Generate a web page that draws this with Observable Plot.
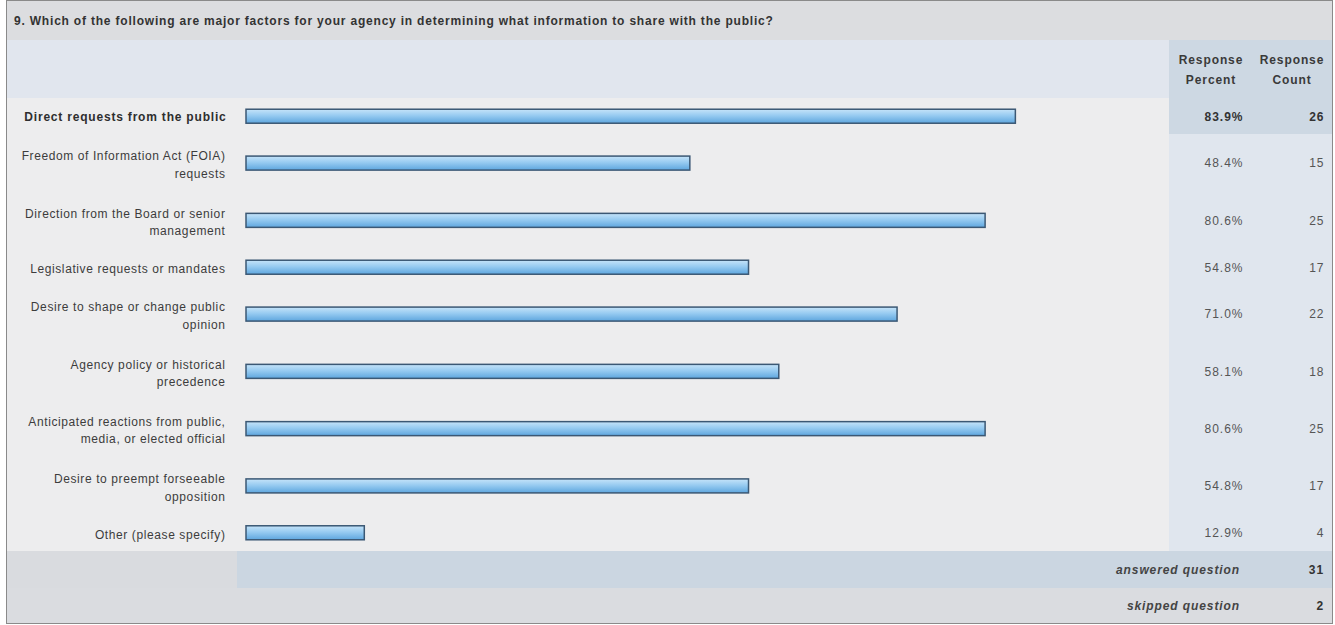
<!DOCTYPE html>
<html>
<head>
<meta charset="utf-8">
<script src="https://cdn.jsdelivr.net/npm/d3@7"></script>
<script src="https://cdn.jsdelivr.net/npm/@observablehq/plot@0.6"></script>
<style>
  html, body { margin: 0; padding: 0; background: #ffffff; }
  body { position: relative; width: 1335px; height: 625px; overflow: hidden;
         font-family: "Liberation Sans", Arial, sans-serif; font-size: 12px; color: #3a3a3a; }
  .abs { position: absolute; box-sizing: border-box; }
  .t { position: absolute; white-space: pre; letter-spacing: 0.9px; }
  svg .lbl text { letter-spacing: 0.6px; }
  svg .lblb text { letter-spacing: 0.8px; }
  svg .val text { letter-spacing: 1px; }
</style>
</head>
<body>
<script>
// ---------- data ----------
const questionTitle = "9. Which of the following are major factors for your agency in determining what information to share with the public?";
const columnHeaders = ["Response\nPercent", "Response\nCount"];
const labels = [
  "Direct requests from the public",
  "Freedom of Information Act (FOIA)\nrequests",
  "Direction from the Board or senior\nmanagement",
  "Legislative requests or mandates",
  "Desire to shape or change public\nopinion",
  "Agency policy or historical\nprecedence",
  "Anticipated reactions from public,\nmedia, or elected official",
  "Desire to preempt forseeable\nopposition",
  "Other (please specify)"
];
const percents = [83.9, 48.4, 80.6, 54.8, 71.0, 58.1, 80.6, 54.8, 12.9];
const counts = [26, 15, 25, 17, 22, 18, 25, 17, 4];
const summaryLabels = ["answered question", "skipped question"];
const summaryCounts = [31, 2];

// ---------- layout helpers ----------
function box(left, top, width, height, bg, extra) {
  const d = document.createElement("div");
  d.className = "abs";
  Object.assign(d.style, {left: left + "px", top: top + "px", width: width + "px", height: height + "px", background: bg}, extra || {});
  document.body.appendChild(d);
  return d;
}
function txt(str, style) {
  const d = document.createElement("div");
  d.className = "t";
  d.textContent = str;
  Object.assign(d.style, style);
  document.body.appendChild(d);
  return d;
}

// rows: height proportional to number of label lines
let acc = 0;
const rows = labels.map((label, i) => {
  const lines = label.split("\n").length;
  const size = lines + 0.75;
  const r = {label, pct: percents[i], count: counts[i], pctText: percents[i].toFixed(1) + "%", y0: acc, y1: acc + size, center: acc + size / 2, first: i === 0};
  acc += size;
  return r;
});
const total = acc;

const chartTop = 98, chartHeight = 453;
const rightColLeft = 1169;

// backgrounds
box(6, 0, 1327, 40, "#dcdde0");
box(6, 40, rightColLeft - 6, 58, "#e1e6ee");
box(6, chartTop, rightColLeft - 6, chartHeight, "#ededee");

const chart = Plot.plot({
  width: 1335,
  height: chartHeight,
  margin: 0,
  x: {domain: [0, 100], range: [246, 1163], axis: null},
  y: {domain: [0, total], range: [0, chartHeight], axis: null},
  style: {background: "transparent", fontFamily: "Liberation Sans, Arial, sans-serif", fontSize: "12px", overflow: "visible"},
  marks: [
    Plot.rect(rows, {x1: 0, x2: "pct", y1: "center", y2: "center", insetTop: -7, insetBottom: -7,
      fill: "url(#barGrad)", stroke: "#3b5874", strokeWidth: 1.5}),
    Plot.text(rows.filter(d => !d.first), {x: 0, dx: -21, y: "center", text: "label", textAnchor: "end",
      lineHeight: 1.45, fill: "#3c3c3c", className: "lbl"}),
    Plot.text(rows.filter(d => d.first), {x: 0, dx: -20, y: "center", text: "label", textAnchor: "end",
      fontWeight: "bold", fill: "#2e2e2e", className: "lblb"}),
    Plot.text(rows.filter(d => !d.first), {frameAnchor: "right", dx: -92, y: "center", text: "pctText", textAnchor: "end", fill: "#555", className: "val"}),
    Plot.text(rows.filter(d => !d.first), {frameAnchor: "right", dx: -11, y: "center", text: "count", textAnchor: "end", fill: "#555", className: "val"}),
    Plot.text(rows.filter(d => d.first), {frameAnchor: "right", dx: -92, y: "center", text: "pctText", textAnchor: "end", fill: "#333", fontWeight: "bold", className: "val"}),
    Plot.text(rows.filter(d => d.first), {frameAnchor: "right", dx: -11, y: "center", text: "count", textAnchor: "end", fill: "#333", fontWeight: "bold", className: "val"})
  ]
});

// right column cell backgrounds, using the chart's y scale
const ys = chart.scale("y");
const firstEnd = chartTop + (ys.range[1] - ys.range[0]) * (rows[0].y1 - ys.domain[0]) / (ys.domain[1] - ys.domain[0]);
box(rightColLeft, 40, 1333 - rightColLeft, firstEnd - 40, "#cdd8e3");
box(rightColLeft, firstEnd, 1333 - rightColLeft, chartTop + chartHeight - firstEnd, "#e0e6ee");

// footer backgrounds
box(6, 551, 231, 37, "#d9dbdf");
box(237, 551, 1096, 37, "#cbd6e1");
box(6, 588, 1327, 36, "#dadce0");

// gradient for bars
const defs = d3.select(chart).insert("defs", ":first-child");
const g = defs.append("linearGradient").attr("id", "barGrad").attr("x1", 0).attr("x2", 0).attr("y1", 0).attr("y2", 1);
g.append("stop").attr("offset", "0%").attr("stop-color", "#c6e4f9");
g.append("stop").attr("offset", "45%").attr("stop-color", "#97cbf1");
g.append("stop").attr("offset", "100%").attr("stop-color", "#5ea6de");

chart.style.position = "absolute";
chart.style.left = "0px";
chart.style.top = chartTop + "px";
document.body.appendChild(chart);

// texts
txt(questionTitle, {left: "14px", top: "13px", lineHeight: "16px", fontWeight: "bold", color: "#333", letterSpacing: "0.8px"});
txt(columnHeaders[0], {left: "1170px", width: "82px", top: "50px", lineHeight: "20px", textAlign: "center", fontWeight: "bold", color: "#3a3a3a"});
txt(columnHeaders[1], {left: "1252px", width: "80px", top: "50px", lineHeight: "20px", textAlign: "center", fontWeight: "bold", color: "#3a3a3a"});
summaryLabels.forEach((s, i) => {
  const top = [562, 598][i];
  txt(s, {left: "900px", width: "340px", top: top + "px", lineHeight: "16px", textAlign: "right", fontStyle: "italic", fontWeight: "bold", color: "#444"});
  txt(String(summaryCounts[i]), {left: "1250px", width: "74px", top: top + "px", lineHeight: "16px", textAlign: "right", fontWeight: "bold", color: "#333"});
});

// outer frame
box(6, 0, 1327, 624, "transparent", {border: "1px solid #8a8a8a"});
</script>
</body>
</html>
